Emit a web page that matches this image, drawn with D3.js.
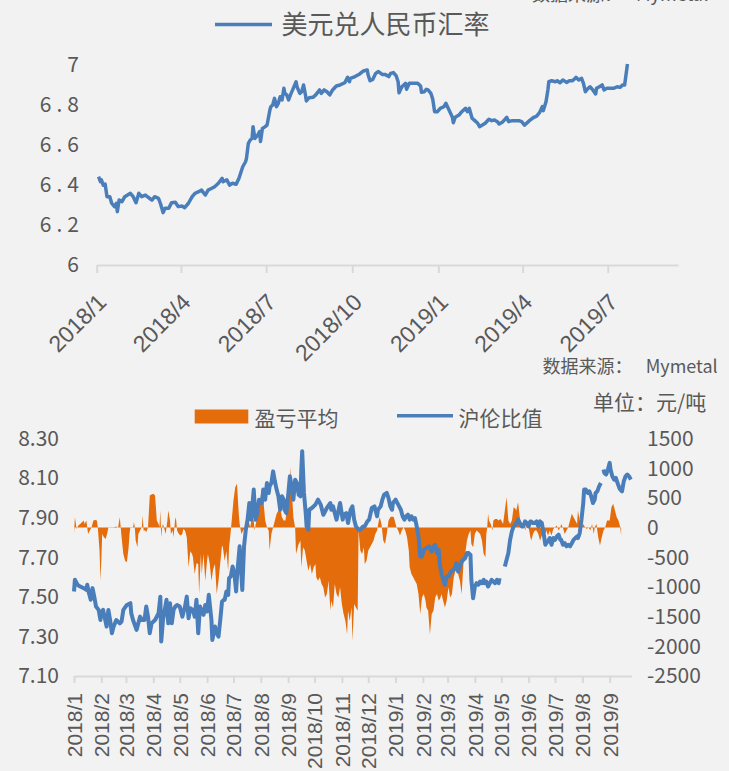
<!DOCTYPE html>
<html>
<head>
<meta charset="utf-8">
<script src="https://cdn.jsdelivr.net/npm/d3@7"></script>
<style>
  body { margin: 0; background: #f2f2f2; }
  svg { display: block; font-family: "Noto Sans CJK SC", "Noto Sans", sans-serif; }
</style>
</head>
<body>
<svg id="chart" width="729" height="771"></svg>
<script>
// day offsets are counted from 2018-01-01
const baseDate = new Date(2018, 0, 1);

// 美元兑人民币汇率
const fxDays = [2,4,5,7,9,11,14,16,19,21,22,24,27,30,36,39,42,45,48,52,55,59,62,66,68,71,73,77,80,84,87,91,94,98,102,105,109,112,116,119,123,126,130,134,135,139,142,145,149,152,156,159,160,162,164,166,167,169,172,174,175,177,180,182,185,186,188,190,192,194,196,198,200,201,203,205,207,210,213,214,217,219,221,223,224,227,231,234,238,240,243,246,249,252,256,260,265,268,270,271,276,281,
  285,289,290,292,295,298,301,305,308,312,314,317,320,322,323,326,330,331,334,339,343,346,347,350,352,354,357,359,361,364,367,371,373,375,378,380,381,383,387,390,394,396,398,401,404,407,409,412,415,419,422,425,428,430,434,438,440,444,447,451,454,457,460,463,467,470,473,476,477,480,482,483,486,490,492,495,498,502,505,508,510,512,515,518,520,522,524,527,530,533,534,537,540,542,545,549,552,556,559,562,564,567];
const fxRate = [6.440,6.415,6.424,6.398,6.403,6.340,6.340,6.307,6.290,6.307,6.265,6.323,6.315,6.340,6.357,6.340,6.310,6.357,6.340,6.348,6.337,6.323,6.340,6.332,6.307,6.260,6.282,6.282,6.310,6.312,6.290,6.293,6.285,6.307,6.340,6.357,6.365,6.373,6.348,6.373,6.382,6.390,6.407,6.432,6.415,6.424,6.398,6.407,6.402,6.432,6.490,6.515,6.532,6.607,6.624,6.632,6.691,6.632,6.649,6.666,6.616,6.682,6.691,6.699,6.774,6.791,6.800,6.833,6.791,6.808,6.841,6.825,6.883,6.858,6.850,6.825,6.850,6.883,6.916,6.891,6.858,6.866,6.900,6.850,6.820,6.836,6.838,6.850,6.875,6.858,6.875,6.866,6.850,6.875,6.895,6.900,6.911,6.938,6.916,6.933,6.942,6.955,
  6.970,6.975,6.950,6.921,6.928,6.958,6.967,6.953,6.953,6.942,6.958,6.962,6.945,6.916,6.861,6.891,6.908,6.878,6.908,6.908,6.908,6.895,6.863,6.866,6.878,6.875,6.858,6.828,6.766,6.766,6.783,6.791,6.808,6.788,6.758,6.738,6.711,6.738,6.749,6.766,6.783,6.766,6.783,6.733,6.721,6.708,6.691,6.699,6.708,6.728,6.721,6.724,6.716,6.704,6.716,6.738,6.716,6.721,6.721,6.721,6.716,6.699,6.711,6.724,6.738,6.744,6.761,6.791,6.771,6.816,6.875,6.916,6.921,6.916,6.921,6.911,6.925,6.913,6.921,6.921,6.928,6.938,6.925,6.933,6.908,6.866,6.878,6.891,6.875,6.855,6.883,6.891,6.900,6.875,6.883,6.883,6.883,6.891,6.888,6.900,6.900,7.005];
const fxTicks = ["2018-01-01","2018-04-01","2018-07-01","2018-10-01","2019-01-01","2019-04-01","2019-07-01"];
const fxYTicks = [6, 6.2, 6.4, 6.6, 6.8, 7];

// 沪伦比值 (null = no data)
const ratioDays = [0,1,4,7,11,14,15,17,19,21,23,25,28,30,31,33,35,37,39,41,43,45,48,52,54,56,60,64,65,67,71,75,77,80,82,84,86,88,92,96,98,99,101,103,105,107,109,111,113,115,117,120,123,126,128,130,132,135,137,139,141,143,145,147,149,151,153,154,156,157,160,162,164,166,168,170,171,173,175,176,178,180,182,184,185,188,
  191,193,195,197,199,201,202,204,206,208,210,213,215,217,219,221,222,224,226,228,230,232,234,236,238,239,241,243,245,247,249,251,253,255,257,258,259,261,263,264,266,267,270,274,277,280,283,287,291,292,294,298,300,302,305,306,309,311,314,316,318,320,323,325,328,330,333,335,338,341,344,345,348,350,352,355,357,359,361,362,365,368,371,373,375,377,379,381,383,385,387,389,391,393,395,397,400,403,406,408,410,412,414,415,417,419,421,423,425,428,431,432,434,436,438,440,442,444,446,448,450,451,453,
  455,457,459,461,463,465,466,468,470,472,474,476,478,480,482,483,485,
  489,491,493,495,497,499,501,502,504,506,508,510,512,514,516,518,519,521,523,525,527,529,531,533,535,536,538,540,542,544,546,548,550,552,553,555,557,559,561,563,565,567,569,571,572,574,576,578,579,581,583,585,587,589,591,592,594,596,598,600,
  601,602,604,606,608,609,611,613,615,617,619,620,622,624,626,628,630,632];
const ratioValue = [7.527,7.586,7.561,7.552,7.544,7.535,7.561,7.518,7.485,7.544,7.501,7.451,7.434,7.383,7.417,7.434,7.392,7.350,7.434,7.383,7.316,7.350,7.383,7.366,7.375,7.434,7.459,7.468,7.417,7.383,7.333,7.400,7.383,7.383,7.451,7.400,7.316,7.366,7.383,7.417,7.501,7.274,7.383,7.434,7.485,7.366,7.468,7.366,7.434,7.451,7.459,7.451,7.400,7.451,7.501,7.392,7.442,7.434,7.400,7.485,7.316,7.451,7.426,7.409,7.459,7.426,7.510,7.468,7.383,7.282,7.350,7.316,7.299,7.383,7.476,7.485,7.485,7.527,7.510,7.594,7.603,7.653,7.620,7.527,7.603,7.755,
  7.535,7.755,7.839,7.890,7.974,7.890,7.940,8.042,7.890,7.923,7.991,7.974,8.042,7.991,8.075,8.025,8.058,8.075,8.134,8.084,8.042,8.008,7.940,8.008,7.991,7.940,7.923,8.008,8.109,8.058,7.991,8.092,8.075,8.016,8.008,8.143,8.236,8.025,7.923,7.856,7.839,7.940,7.949,7.966,7.991,7.966,7.915,7.949,7.974,7.940,7.957,7.890,7.932,7.974,7.890,7.915,7.923,7.873,7.940,7.957,7.890,7.856,7.839,7.839,7.856,7.856,7.881,7.890,7.949,7.957,7.907,7.940,7.957,7.991,8.016,8.025,7.999,7.957,7.940,7.974,7.991,7.966,7.940,7.907,7.890,7.907,7.915,7.890,7.907,7.890,7.898,7.856,7.805,7.704,7.704,7.738,7.746,7.755,7.729,7.755,7.763,7.721,7.738,7.670,7.620,7.586,7.561,7.603,7.603,7.628,7.637,7.645,7.670,7.628,7.653,7.679,7.687,7.696,7.721,7.721,7.712,7.586,7.493,
  7.552,7.569,7.561,7.577,7.569,7.586,7.569,7.577,7.552,7.569,7.586,7.577,7.569,7.586,7.569,7.594,null,
  7.653,7.687,7.721,7.788,7.831,7.856,7.864,7.873,7.890,7.873,7.856,7.856,7.881,7.873,7.856,7.881,7.881,7.873,7.873,7.881,7.856,7.881,7.873,7.822,7.763,7.771,7.780,7.797,7.763,7.797,7.788,7.805,7.814,7.788,7.788,7.763,7.771,7.755,7.763,7.755,7.771,7.788,7.797,7.805,7.797,7.822,7.890,7.974,8.042,8.042,8.025,8.033,8.008,7.974,7.991,8.025,8.033,8.058,8.075,null,
  8.143,8.126,8.118,8.143,8.177,8.143,8.109,8.092,8.101,8.075,8.050,8.042,8.033,8.084,8.109,8.118,8.109,8.092];

// 盈亏平均 (元/吨)
const pnlDays = [0,1,3,5,7,9,11,12,14,16,18,20,22,24,26,27,29,30,31,32,34,36,38,39,41,45,48,50,51,52,53,54,56,58,60,62,63,64,67,68,69,70,72,73,75,77,78,79,81,82,84,86,88,90,92,94,96,97,98,99,100,101,103,104,106,107,109,110,112,113,115,116,117,119,121,123,124,126,128,130,132,134,135,137,139,141,142,144,145,147,149,151,152,154,156,158,160,162,164,166,168,169,171,173,175,176,178,179,181,183,185,187,188,190,
  192,194,196,198,200,202,204,205,207,209,211,213,215,217,219,221,222,224,226,228,230,232,234,236,238,240,241,243,245,246,247,249,251,252,254,255,257,258,260,262,264,266,268,270,272,274,275,277,279,281,283,285,287,289,291,292,294,296,298,300,302,304,306,308,310,311,313,315,316,318,320,322,323,325,327,329,330,332,334,336,338,340,342,344,346,347,349,351,353,355,357,359,361,363,364,366,368,370,372,374,376,378,380,381,383,385,387,389,391,393,395,397,399,400,402,404,406,408,410,412,414,416,417,419,421,423,425,427,429,431,433,434,436,438,440,442,444,446,448,450,451,453,
  455,457,459,461,463,465,467,468,469,470,471,473,475,476,478,480,482,484,485,487,489,491,493,495,497,499,501,502,504,506,508,510,512,514,516,518,519,521,523,525,527,529,531,533,535,536,538,540,542,544,546,548,550,552,553,555,557,559,561,563,565,567,569,571,572,574,576,578,580,582,584,586,588,590,591,593,595,597,599,601,603,605,607,608,610,612,614,616,618,620,621];
const pnlValue = [-107,174,-23,34,62,90,118,62,118,-107,-51,6,118,129,118,6,-388,-895,-557,-107,-163,-191,-79,6,6,6,17,-6,90,174,6,-163,-444,-557,-585,-332,-107,6,6,90,6,-219,-332,-107,-51,6,203,-51,-51,-79,6,540,557,568,540,118,62,6,287,-163,6,62,-51,-107,118,287,118,-107,-51,-163,174,118,-51,-107,-135,-107,-23,-51,-163,-670,-400,-444,-500,-782,-600,-613,-1120,-444,-782,-444,-895,-557,-450,-600,-895,-700,-613,-1120,-895,-600,-300,-332,-557,-400,-726,-332,-51,118,456,681,737,231,62,-107,
  -51,6,90,118,6,174,118,-51,118,231,343,681,456,118,6,-51,-388,-107,6,118,231,287,343,174,118,118,231,399,681,1018,681,174,0,-444,-332,-276,-219,-670,-332,-388,-557,-726,-613,-782,-670,-613,-838,-895,-838,-951,-1007,-1176,-1120,-895,-1401,-1232,-1345,-951,-1120,-1176,-1007,-1288,-1457,-1570,-1795,-1401,-1570,-1345,-1907,-1288,-1345,-1401,-51,-388,-444,-332,-613,-557,-388,-332,-276,-219,-107,-51,118,174,62,-219,-276,-107,118,174,186,174,118,6,-51,-135,-51,6,-51,-163,-388,-670,-782,-838,-895,-951,-1120,-1457,-1176,-1120,-1232,-1345,-1401,-1795,-1457,-1401,-1176,-1120,-1232,-1176,-1120,-1232,-1345,-1232,-1007,-1176,-1120,-838,-726,-557,-782,-895,-1120,-613,-444,-219,-107,-51,-276,-332,
  -107,-51,-79,-107,-219,-444,-501,-107,0,231,118,62,-51,118,146,146,118,146,118,62,287,512,118,62,118,343,315,287,428,174,6,118,-51,62,6,-163,-219,-107,-51,-51,-107,-219,-135,-51,-107,-51,-135,-51,-135,-23,6,34,-51,6,62,-6,-107,-51,6,118,231,174,118,62,287,118,6,62,6,-23,6,-51,62,-107,6,62,-163,-304,-163,-51,6,118,118,118,343,399,287,174,118,6,-135];

const monthTicks = ["2018-01-01","2018-02-01","2018-03-01","2018-04-01","2018-05-01","2018-06-01","2018-07-01","2018-08-01","2018-09-01","2018-10-01","2018-11-01","2018-12-01","2019-01-01","2019-02-01","2019-03-01","2019-04-01","2019-05-01","2019-06-01","2019-07-01","2019-08-01","2019-09-01"];
const ratioTicks = [7.1, 7.3, 7.5, 7.7, 7.9, 8.1, 8.3];
const pnlTicks = [-2500, -2000, -1500, -1000, -500, 0, 500, 1000, 1500];

const textColor = "#595959";
const axisColor = "#d9d9d9";
const blue = "#4a7ebb";
const orange = "#e46c0a";

const parseDate = d3.timeParse("%Y-%m-%d");
const fmtDate = d3.timeFormat("%Y/%-m");
const dayToDate = n => d3.timeDay.offset(baseDate, n);

const svg = d3.select("#chart");

// ---------- top chart: 美元兑人民币汇率 ----------
const xTop = d3.scaleTime().domain([baseDate, new Date(2019, 8, 14)]).range([96.7, 678]);
const yTop = d3.scaleLinear().domain([6, 7]).range([264.5, 65]);

const fxData = fxDays.map((d, i) => ({date: dayToDate(d), v: fxRate[i]}));

const topXAxis = svg.append("g")
  .attr("transform", "translate(0,265)")
  .call(d3.axisBottom(xTop).tickValues(fxTicks.map(parseDate)).tickFormat(fmtDate).tickSize(8).tickSizeOuter(0));
topXAxis.select(".domain").attr("stroke", axisColor).attr("stroke-width", 2);
topXAxis.selectAll(".tick line").attr("stroke", axisColor).attr("stroke-width", 2);
topXAxis.selectAll(".tick text")
  .attr("fill", textColor).attr("font-size", 23)
  .attr("text-anchor", "end")
  .attr("x", 0).attr("y", 0).attr("dy", "0.35em")
  .attr("transform", "translate(5,33) rotate(-45)");

svg.append("g").selectAll("text")
  .data(fxYTicks)
  .join("text")
  .attr("x", 84)
  .attr("y", d => yTop(d))
  .attr("dy", "0.35em")
  .attr("text-anchor", "end")
  .attr("letter-spacing", 5)
  .attr("fill", textColor)
  .attr("font-size", 21)
  .text(d3.format("~g"));

svg.append("path")
  .datum(fxData)
  .attr("fill", "none")
  .attr("stroke", blue)
  .attr("stroke-width", 3.5)
  .attr("stroke-linejoin", "round")
  .attr("d", d3.line().x(d => xTop(d.date)).y(d => yTop(d.v)));

// legend + source (cut at top)
svg.append("line").attr("x1", 215).attr("x2", 272).attr("y1", 24.5).attr("y2", 24.5)
  .attr("stroke", blue).attr("stroke-width", 3.5);
svg.append("text").attr("x", 281.5).attr("y", 25).attr("dy", "0.35em")
  .attr("fill", textColor).attr("font-size", 26).text("美元兑人民币汇率");
svg.append("text").attr("x", 532).attr("y", 1).attr("fill", textColor).attr("font-size", 18).text("数据来源：");
svg.append("text").attr("x", 636).attr("y", 1).attr("fill", textColor).attr("font-size", 18).text("Mymetal");

// ---------- bottom chart: 盈亏平均 / 沪伦比值 ----------
const xBot = d3.scaleTime().domain([baseDate, new Date(2019, 8, 26)]).range([74, 631.7]);
const yLeft = d3.scaleLinear().domain([7.1, 8.3]).range([676, 438.5]);
const yRight = d3.scaleLinear().domain([-2500, 1500]).range([676, 438.5]);

const pnlData = pnlDays.map((d, i) => ({date: dayToDate(d), v: pnlValue[i]}));
const ratioData = ratioDays.map((d, i) => ({date: dayToDate(d), v: ratioValue[i]}));

svg.append("path")
  .datum(pnlData)
  .attr("fill", orange)
  .attr("d", d3.area().x(d => xBot(d.date)).y0(yRight(0)).y1(d => yRight(d.v)));

svg.append("path")
  .datum(ratioData)
  .attr("fill", "none")
  .attr("stroke", blue)
  .attr("stroke-width", 4)
  .attr("stroke-linejoin", "round")
  .attr("d", d3.line().defined(d => d.v !== null).x(d => xBot(d.date)).y(d => yLeft(d.v)));

const botXAxis = svg.append("g")
  .attr("transform", "translate(0,676)")
  .call(d3.axisBottom(xBot).tickValues(monthTicks.map(parseDate)).tickFormat(fmtDate).tickSize(7).tickSizeOuter(0));
botXAxis.select(".domain").attr("stroke", axisColor).attr("stroke-width", 2);
botXAxis.selectAll(".tick line").attr("stroke", axisColor).attr("stroke-width", 2);
botXAxis.selectAll(".tick text")
  .attr("fill", textColor).attr("font-size", 21)
  .attr("text-anchor", "end")
  .attr("x", 0).attr("y", 0).attr("dy", "0.35em")
  .attr("transform", "translate(0,17) rotate(-90)");

svg.append("g").selectAll("text")
  .data(ratioTicks)
  .join("text")
  .attr("x", 59)
  .attr("y", d => yLeft(d))
  .attr("dy", "0.35em")
  .attr("text-anchor", "end")
  .attr("fill", textColor)
  .attr("font-size", 21)
  .text(d3.format(".2f"));

svg.append("g").selectAll("text")
  .data(pnlTicks)
  .join("text")
  .attr("x", 647)
  .attr("y", d => yRight(d))
  .attr("dy", "0.35em")
  .attr("fill", textColor)
  .attr("font-size", 21)
  .text(d => d);

// legend and notes
svg.append("rect").attr("x", 194.7).attr("y", 409.5).attr("width", 53.6).attr("height", 14).attr("fill", orange);
svg.append("text").attr("x", 254.6).attr("y", 418.3).attr("dy", "0.35em")
  .attr("fill", textColor).attr("font-size", 21).text("盈亏平均");
svg.append("line").attr("x1", 397).attr("x2", 453).attr("y1", 415.8).attr("y2", 415.8)
  .attr("stroke", blue).attr("stroke-width", 3.5);
svg.append("text").attr("x", 458.4).attr("y", 418.3).attr("dy", "0.35em")
  .attr("fill", textColor).attr("font-size", 21).text("沪伦比值");
svg.append("text").attr("x", 542.4).attr("y", 366.5).attr("dy", "0.35em")
  .attr("fill", textColor).attr("font-size", 18).text("数据来源：");
svg.append("text").attr("x", 645.7).attr("y", 366.5).attr("dy", "0.35em")
  .attr("fill", textColor).attr("font-size", 18).text("Mymetal");
svg.append("text").attr("x", 593).attr("y", 402.5).attr("dy", "0.35em")
  .attr("fill", textColor).attr("font-size", 21).text("单位：元/吨");
</script>
</body>
</html>
